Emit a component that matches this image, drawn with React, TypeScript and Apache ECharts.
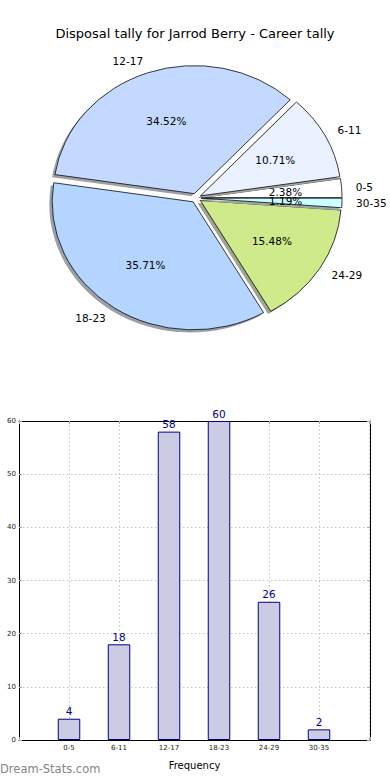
import React, { useEffect, useRef } from "react";
import * as echarts from "echarts";

const titleText = "Disposal tally for Jarrod Berry - Career tally";
const categories = ["0-5", "6-11", "12-17", "18-23", "24-29", "30-35"];
const frequency = [4, 18, 58, 60, 26, 2];
const pieColors = ["#ffffff", "#eaf1ff", "#c4d9ff", "#b4d5ff", "#cfea8b", "#ccffff"];
const yTicks = [0, 10, 20, 30, 40, 50, 60];

const FONT = "DejaVu Sans";

function shade(hex: string): string {
  const n = parseInt(hex.slice(1), 16);
  const r = (n >> 16) & 255, g = (n >> 8) & 255, b = n & 255;
  const f = (c: number) => Math.round(255 * 0.5 + c * 0.3 * 0.5);
  return `rgb(${f(r)},${f(g)},${f(b)})`;
}

export default function App() {
  const ref = useRef<HTMLDivElement>(null);
  useEffect(() => {
    document.body.style.margin = "0";
    const chart = echarts.init(ref.current!, null, { renderer: "svg" });
    const total = frequency.reduce((a, b) => a + b, 0);
    const cx = 196, cy = 198, rx = 141, ry = 128;
    const explode = 0.036;

    const renderPie = (params: any, api: any) => {
      const idx = params.dataIndex;
      const v = api.value(0);
      let cum = 0;
      for (let i = 0; i < idx; i++) cum += frequency[i];
      const t1 = (cum / total) * Math.PI * 2;
      const t2 = ((cum + v) / total) * Math.PI * 2;
      const mid = (t1 + t2) / 2;
      const c = Math.cos(mid), s = Math.sin(mid);
      const ox = cx + explode * rx * c;
      const oy = cy - explode * ry * s;
      const shape = { cx: 0, cy: 0, r: rx, startAngle: -t2, endAngle: -t1, clockwise: true };
      const color = pieColors[idx];
      return {
        type: "group",
        children: [
          {
            type: "sector",
            x: ox - 0.02 * rx,
            y: oy + 0.02 * ry,
            scaleY: ry / rx,
            shape,
            style: { fill: shade(color) },
          },
          {
            type: "sector",
            x: ox,
            y: oy,
            scaleY: ry / rx,
            shape,
            style: { fill: color, stroke: "#000", lineWidth: 0.8, strokeNoScale: true },
          },
          {
            type: "text",
            x: ox + 0.6 * rx * c,
            y: oy - 0.6 * ry * s,
            style: {
              text: ((v / total) * 100).toFixed(2) + "%",
              align: "center",
              verticalAlign: "middle",
              fontSize: 10.5,
              fontFamily: FONT,
              fill: "#000",
            },
          },
          {
            type: "text",
            x: ox + 1.1 * rx * c,
            y: oy - 1.1 * ry * s,
            style: {
              text: categories[idx],
              align: c > 0 ? "left" : "right",
              verticalAlign: "middle",
              fontSize: 10.5,
              fontFamily: FONT,
              fill: "#000",
            },
          },
        ],
      };
    };

    const gridLine = { show: true, lineStyle: { color: "#c4c4c4", type: [1.5, 2.5], width: 1 } };
    const frameLine = { show: true, onZero: false, lineStyle: { color: "#000", width: 1 } };
    const tick = { show: true, inside: true, length: 3, lineStyle: { color: "#aaa" } };

    chart.setOption({
      animation: false,
      textStyle: { fontFamily: FONT },
      title: {
        text: titleText,
        left: "center",
        top: 22,
        textStyle: { fontSize: 13, fontWeight: "normal", color: "#000", fontFamily: FONT },
      },
      grid: {
        left: 19,
        right: 20,
        top: 421,
        bottom: 40,
        containLabel: false,
      },
      xAxis: [
        {
          type: "value",
          min: -1,
          max: 6.02,
          interval: 1,
          name: "Frequency",
          nameLocation: "middle",
          nameGap: 20,
          nameTextStyle: { fontSize: 10, color: "#000", fontFamily: FONT },
          axisLine: frameLine,
          axisTick: tick,
          axisLabel: {
            fontSize: 7,
            color: "#222",
            margin: 4,
            formatter: (val: number) => {
              const i = Math.round(val);
              return Math.abs(val - i) < 1e-6 && categories[i] ? categories[i] : "";
            },
          },
          splitLine: gridLine,
        },
        {
          type: "value",
          position: "top",
          min: -1,
          max: 6.02,
          interval: 1,
          axisLine: frameLine,
          axisTick: tick,
          axisLabel: { show: false },
          splitLine: { show: false },
        },
      ],
      yAxis: [
        {
          type: "value",
          min: yTicks[0],
          max: yTicks[yTicks.length - 1],
          interval: 10,
          axisLine: frameLine,
          axisTick: tick,
          axisLabel: { fontSize: 7, color: "#222", margin: 3 },
          splitLine: gridLine,
        },
        {
          type: "value",
          position: "right",
          min: yTicks[0],
          max: yTicks[yTicks.length - 1],
          interval: 10,
          axisLine: frameLine,
          axisTick: tick,
          axisLabel: { show: false },
          splitLine: { show: false },
        },
      ],
      graphic: [
        {
          type: "text",
          left: 0,
          top: 763,
          style: { text: "Dream-Stats.com", fontSize: 11.5, fontFamily: FONT, fill: "#858585" },
        },
      ],
      series: [
        {
          type: "custom",
          coordinateSystem: "none",
          renderItem: renderPie,
          data: frequency.map((v) => [v]),
          silent: true,
        },
        {
          type: "bar",
          xAxisIndex: 0,
          yAxisIndex: 0,
          data: frequency.map((v, i) => [i, v]),
          barWidth: 22.5,
          itemStyle: { color: "#cbcbe4", borderColor: "#000080", borderWidth: 1 },
          label: {
            show: true,
            position: "top",
            distance: 2,
            fontSize: 10.5,
            color: "#00008b",
            fontFamily: FONT,
          },
          z: 1,
        },
      ],
    });
    return () => chart.dispose();
  }, []);
  return <div ref={ref} style={{ width: 390, height: 780 }} />;
}
